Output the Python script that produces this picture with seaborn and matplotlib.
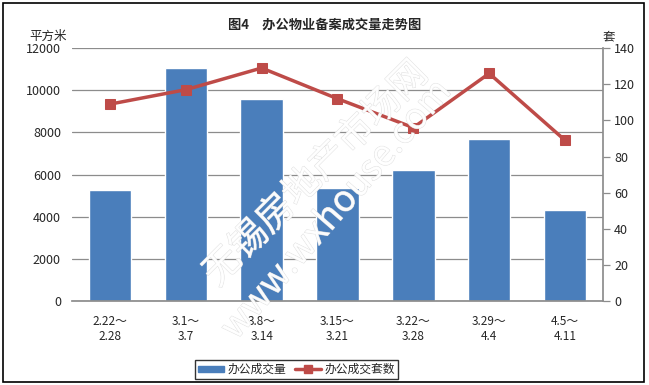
import matplotlib
matplotlib.use("Agg")
import matplotlib.pyplot as plt
import matplotlib.patches as mpatches
import matplotlib.patheffects as pe
from matplotlib.lines import Line2D
import seaborn as sns
import pandas as pd

categories = ["2.22～\n2.28", "3.1～\n3.7", "3.8～\n3.14", "3.15～\n3.21",
              "3.22～\n3.28", "3.29～\n4.4", "4.5～\n4.11"]
area_values = [5250, 11050, 9600, 5350, 6200, 7700, 4300]
unit_values = [109, 117, 129, 112, 96, 126, 89]
left_ticks = [0, 2000, 4000, 6000, 8000, 10000, 12000]
right_ticks = [0, 20, 40, 60, 80, 100, 120, 140]

sns.set_theme(style="white")
plt.rcParams['font.family'] = ['Noto Sans CJK SC', 'DejaVu Sans']

bar_color = "#4A7EBB"
line_color = "#BE4B48"

fig = plt.figure(figsize=(6.49, 3.85), dpi=100)
ax = fig.add_axes([0.111, 0.218, 0.818, 0.657])

df = pd.DataFrame({"cat": categories, "area": area_values, "units": unit_values})
sns.barplot(data=df, x="cat", y="area", color=bar_color, width=0.56,
            saturation=1, ax=ax, zorder=2)
ax.set_xlim(-0.5, 6.5)
ax.set_ylim(0, 12000)
ax.set_yticks(left_ticks)
ax.set_yticklabels([str(t) for t in left_ticks], fontsize=9)
ax.tick_params(axis='x', length=0, labelsize=8.5, pad=10)
ax.tick_params(axis='y', length=0, pad=8)
ax.yaxis.grid(True, color="#8c8c8c", linewidth=0.9, zorder=0)
ax.set_axisbelow(True)
for s in ["top", "left", "right"]:
    ax.spines[s].set_visible(False)
ax.spines["bottom"].set_color("#8c8c8c")
ax.set_xlabel("")
ax.set_ylabel("")

ax2 = ax.twinx()
sns.lineplot(x=list(range(len(categories))), y=unit_values, ax=ax2,
             color=line_color, linewidth=2.5, marker="s", markersize=7,
             markeredgecolor=line_color, zorder=4)
ax2.set_ylim(0, 140)
ax2.set_xlim(-0.5, 6.5)
ax2.set_yticks(right_ticks)
ax2.set_yticklabels([str(t) for t in right_ticks], fontsize=9)
ax2.tick_params(axis='y', direction='out', length=5, width=0.9, color="#8c8c8c", pad=3, right=True)
for s in ["top", "left", "bottom"]:
    ax2.spines[s].set_visible(False)
ax2.spines["right"].set_color("#8c8c8c")
ax2.set_ylabel("")

fig.text(0.5, 0.935, "图4　办公物业备案成交量走势图", ha="center", va="center",
         fontsize=9.5, fontweight="bold")
fig.text(0.045, 0.905, "平方米", ha="left", va="center", fontsize=9)
fig.text(0.928, 0.905, "套", ha="left", va="center", fontsize=9)

# watermark
wm_fx = [pe.withStroke(linewidth=0.6, foreground="#d8d8d8")]
fig.text(0.487, 0.548, "无锡房地产市场网", rotation=45, ha="center", va="center",
         fontsize=27, color="white", alpha=0.85, path_effects=wm_fx, zorder=10)
fig.text(0.519, 0.455, "www.wxhouse.com", rotation=49, ha="center", va="center",
         fontsize=26, color="white", alpha=0.85, path_effects=wm_fx, zorder=10)

handles = [mpatches.Patch(color=bar_color, label="办公成交量"),
           Line2D([0], [0], color=line_color, linewidth=2.5, marker="s",
                  markersize=6, label="办公成交套数")]
fig.legend(handles=handles, loc="center", bbox_to_anchor=(0.457, 0.04),
           ncol=2, frameon=True, fancybox=False, edgecolor="black",
           fontsize=8.5, handlelength=2.2, handleheight=0.5, columnspacing=0.8,
           handletextpad=0.3, borderpad=0.25)

fig.patches.append(mpatches.Rectangle((0.005, 0.008), 0.988, 0.984,
                                      transform=fig.transFigure, fill=False,
                                      edgecolor="black", linewidth=1.2))
fig.savefig("out.png", dpi=100)
